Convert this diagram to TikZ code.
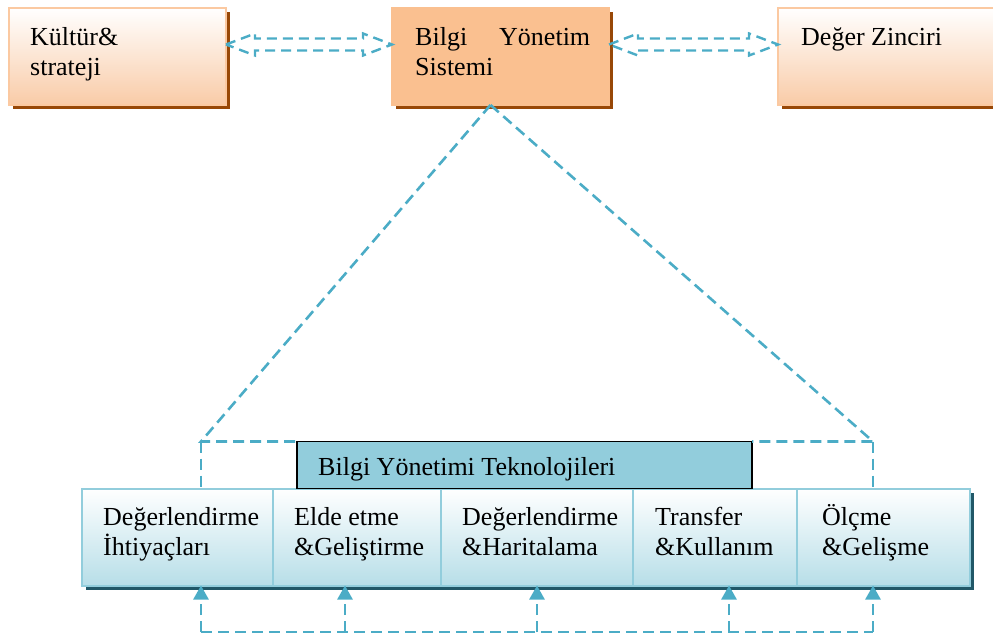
\documentclass[tikz,border=0pt]{standalone}
\usepackage{fontspec}
\setmainfont{Liberation Serif}
\usetikzlibrary{positioning,shadows,arrows.meta,calc}
\definecolor{turuncu}{HTML}{FAC090}
\definecolor{turuncualt}{HTML}{F9CBA7}
\definecolor{kahve}{HTML}{984807}
\definecolor{camgobegi}{HTML}{4BACC6}
\definecolor{mavikenar}{HTML}{92CDDC}
\definecolor{maviacik}{HTML}{B7DEE8}
\definecolor{koyumavi}{HTML}{215868}
\newcommand{\bosok}[2]{%
  \draw[bosoklu] let \p1=([yshift=12pt]#1.east), \p2=([yshift=12pt]#2.west) in
    (\p1) -- (\x1+29pt,\y1+11pt) -- (\x1+29pt,\y1+6pt) -- (\x2-29pt,\y2+6pt)
    -- (\x2-29pt,\y2+11pt) -- (\p2) -- (\x2-29pt,\y2-11pt) -- (\x2-29pt,\y2-6pt)
    -- (\x1+29pt,\y1-6pt) -- (\x1+29pt,\y1-11pt) -- cycle;}

\begin{document}
\begin{tikzpicture}[
    x=1pt, y=-1pt,
    font=\fontsize{26}{30}\selectfont,
    topbox/.style={draw=turuncu!85, line width=2pt, top color=white, bottom color=turuncualt,
      minimum width=217pt, minimum height=97pt, inner sep=0pt, outer sep=0pt,
      drop shadow={shadow xshift=4pt, shadow yshift=-4pt, fill=kahve, opacity=1}},
    bysbox/.style={topbox, draw=turuncu, fill=turuncu, top color=turuncu, bottom color=turuncu},
    cell/.style={draw=mavikenar, line width=2pt, top color=white, bottom color=maviacik,
      minimum width=#1, minimum height=97pt, inner sep=0pt, outer sep=0pt,
      drop shadow={shadow xshift=4pt, shadow yshift=-4pt, fill=koyumavi, opacity=1}},
    techbox/.style={draw=black, line width=1.2pt, fill=mavikenar,
      minimum width=455pt, minimum height=47pt, inner sep=0pt, outer sep=0pt},
    lbl/.style={inner sep=0pt, anchor=north west, align=left, text height=18pt, text depth=7pt},
    lblx/.style={lbl, text height=48pt},
    kesik/.style={camgobegi, line width=2.6pt, dash pattern=on 11pt off 6pt},
    bosoklu/.style={kesik, line width=2.4pt, dash pattern=on 10pt off 6pt}
  ]
    \useasboundingbox (0,0) rectangle (993,637);
    % ust kutular
    \node[topbox] (kultur) at (117.5,56.5) {};
    \node[bysbox, right=166pt of kultur] (bys) {};
    \node[topbox, right=169pt of bys] (deger) {};
    \node[lblx] (kultur-t) at ([xshift=21pt,yshift=-19pt]kultur.north west) {Kültür\&\\strateji};
    \node[lblx] (bys-t) at ([xshift=23pt,yshift=-19pt]bys.north west)
      {\makebox[175pt][s]{Bilgi Yönetim}\\Sistemi};
    \node[lbl] (deger-t) at ([xshift=23pt,yshift=-19pt]deger.north west) {Değer Zinciri};
    \bosok{kultur}{bys}
    \bosok{bys}{deger}
    % alt satir
    \node[cell=191pt] (c1) at (177.5,537) {};
    \node[cell=168pt, right=0pt of c1] (c2) {};
    \node[cell=192pt, right=0pt of c2] (c3) {};
    \node[cell=164pt, right=0pt of c3] (c4) {};
    \node[cell=173pt, right=0pt of c4] (c5) {};
    \foreach \c/\dx/\t in {c1/21/{Değerlendirme\\İhtiyaçları}, c2/21/{Elde etme\\\&Geliştirme},
        c3/21/{Değerlendirme\\\&Haritalama}, c4/22/{Transfer\\\&Kullanım}, c5/25/{Ölçme\\\&Gelişme}}
      \node[lblx] (\c-t) at ([xshift=\dx pt,yshift=-19pt]\c.north west) {\t};
    \node[techbox, anchor=south west] (byt) at ([xshift=24pt]c2.north west) {};
    \node[lbl] (byt-t) at ([xshift=21pt,yshift=-16pt]byt.north west) {Bilgi Yönetimi Teknolojileri};
    % acilim cizgileri
    \coordinate (lc) at (201,0 |- byt.north);
    \coordinate (rc) at (873,0 |- byt.north);
    \draw[kesik] ([xshift=-10pt]bys.south) -- (lc) -- (byt.north west);
    \draw[kesik] (lc) -- (lc |- c1.north);
    \draw[kesik] ([xshift=-10pt]bys.south) -- (rc) -- (byt.north east);
    \draw[kesik] (rc) -- (rc |- c5.north);
    % geri besleme oklari
    \foreach \x/\c [count=\i] in {201/c1,345/c2,537/c3,729/c4,873/c5} {
      \coordinate (a\i) at (\x,632);
      \draw[kesik, -{Triangle[width=15pt,length=14pt]}] (a\i) -- (\x,0 |- \c.south);
    }
    \draw[kesik] (a1) -- (a5);
  \end{tikzpicture}
\end{document}
